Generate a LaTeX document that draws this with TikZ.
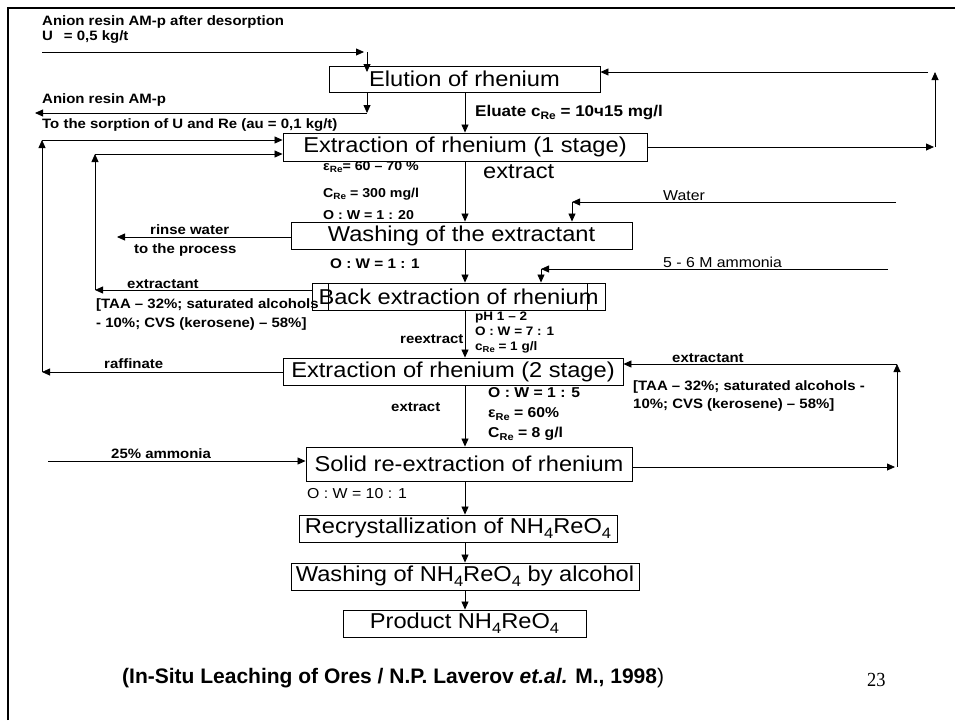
\documentclass[tikz,border=0pt]{standalone}
\usepackage{fontspec}
\setmainfont{Liberation Sans}[FakeStretch=1.1]
\newfontfamily\citefont{Liberation Sans}
\newfontfamily\numfont{Liberation Serif}[FakeStretch=0.92]
\usetikzlibrary{arrows.meta}
\newcommand\sbs[1]{\raisebox{-0.22em}{\scalebox{0.7}{#1}}}
\tikzset{
 box/.style={draw, line width=0.9pt, inner sep=0pt, font=\fontsize{21.5}{24}\selectfont},
 lbl/.style={anchor=base west, inner sep=0pt, font=\fontsize{13.6}{15}\selectfont\bfseries},
 lblm/.style={anchor=base west, inner sep=0pt, font=\fontsize{12.9}{14}\selectfont\bfseries},
 lbls/.style={anchor=base west, inner sep=0pt, font=\fontsize{12.3}{13}\selectfont\bfseries},
 lblr/.style={anchor=base west, inner sep=0pt, font=\fontsize{14.4}{15}\selectfont},
 big/.style={anchor=base west, inner sep=0pt, font=\fontsize{21.5}{24}\selectfont},
 arr/.style={-{Triangle[length=8pt,width=7pt]}, line width=0.8pt},
}
\begin{document}
\begin{tikzpicture}[x=1pt,y=-1pt]
\useasboundingbox (0,0) rectangle (955,720);
\draw[line width=2.6pt] (8,720) -- (8,8) -- (955,8);

% boxes
\node[box, minimum width=271pt, minimum height=26pt] (elution) at (464.5,79) {Elution of rhenium};
\node[box, minimum width=364pt, minimum height=28pt] (ext1) at (465,147) {Extraction of rhenium (1 stage)};
\node[box, minimum width=341pt, minimum height=27pt] (washing) at (461.5,235.5) {Washing of the extractant};
\node[box, minimum width=293pt, minimum height=27pt] (back) at (458.5,296.5) {Back extraction of rhenium};
\node[box, minimum width=259pt, minimum height=27pt] (backin) at (457.5,296.5) {};
\node[box, minimum width=340pt, minimum height=27pt] (ext2) at (453,371.5) {Extraction of rhenium (2 stage)};
\node[box, minimum width=326pt, minimum height=34pt] (solid) at (469,464) {Solid re-extraction of rhenium};
\node[box, minimum width=318pt, minimum height=27pt] (recryst) at (458,528.5) {Recrystallization of NH\sbs{4}ReO\sbs{4}};
\node[box, minimum width=348pt, minimum height=27pt] (wash2) at (465,576.5) {Washing of NH\sbs{4}ReO\sbs{4} by alcohol};
\node[box, minimum width=243pt, minimum height=27pt] (product) at (464.5,623.5) {Product NH\sbs{4}ReO\sbs{4}};

% labels
\node[lbl] (l1) at (42,25) {Anion resin AM-p after desorption};
\node[lbl] (l2) at (42,40) {U\hspace{0.5em} = 0,5 kg/t};
\node[lbl] (l3) at (42,103) {Anion resin AM-p};
\node[lbl] (l4) at (42,128) {To the sorption of U and Re (au = 0,1 kg/t)};
\node[lbl, font=\fontsize{15.5}{17}\selectfont\bfseries] (eluate) at (475,116) {Eluate c\sbs{Re} = 10ч15 mg/l};
\node[lblm] (eps1) at (323,170) {ε\sbs{Re}= 60 -- 70 \%};
\node[lblm] (cre1) at (323,197) {C\sbs{Re} = 300 mg/l};
\node[lblm] (ow1) at (323,219) {O : W = 1 : 20};
\node[big] (extr1) at (483,178) {extract};
\node[lblr] (water) at (663,200) {Water};
\node[lbl] (rinse) at (150,234) {rinse water};
\node[lbl] (process) at (134,253) {to the process};
\node[lbl, font=\fontsize{13.9}{15}\selectfont\bfseries] (ow2) at (330,268) {O : W = 1 : 1};
\node[lblr] (amm56) at (663,267) {5 - 6 M ammonia};
\node[lbl] (extt1) at (127,288) {extractant};
\node[lbl] (taa1a) at (96,308) {[TAA -- 32\%; saturated alcohols};
\node[lbl] (taa1b) at (96,327) {- 10\%; CVS (kerosene) -- 58\%]};
\node[lbls] (ph) at (475,320) {pH 1 -- 2};
\node[lbls] (ow3) at (475,335) {O : W = 7 : 1};
\node[lbls] (cre3) at (475,350) {c\sbs{Re} = 1 g/l};
\node[lbl] (reext) at (400,343) {reextract};
\node[lbl] (raff) at (104,368) {raffinate};
\node[lbl] (extt2) at (672,362) {extractant};
\node[lbl] (taa2a) at (633,390) {[TAA -- 32\%; saturated alcohols -};
\node[lbl] (taa2b) at (633,408) {10\%; CVS (kerosene) -- 58\%]};
\node[lbl, font=\fontsize{14.3}{15}\selectfont\bfseries] (ow4) at (488,397) {O : W = 1 : 5};
\node[lbl, font=\fontsize{14.3}{15}\selectfont\bfseries] (eps2) at (488,417) {ε\sbs{Re} = 60\%};
\node[lbl, font=\fontsize{14.3}{15}\selectfont\bfseries] (cre2) at (488,437) {C\sbs{Re} = 8 g/l};
\node[lbl] (extr2) at (391,411) {extract};
\node[lbl] (amm25) at (111,458) {25\% ammonia};
\node[lblr] (ow5) at (307,498) {O : W = 10 : 1};
\node[anchor=base west, inner sep=0pt, font=\citefont\fontsize{21}{24}\selectfont\bfseries] (cite) at (122,683) {(In-Situ Leaching of Ores / N.P. Laverov \textit{et.al.} M., 1998\textmd{)}};
\node[anchor=base west, inner sep=0pt, font=\numfont\fontsize{20}{22}\selectfont] (pg) at (867,686) {23};

% coordinates
\coordinate (mx) at (465,0);
\coordinate (inS) at (42,52);
\coordinate (inE) at (364,52);
\coordinate (inC) at (367,52);
\coordinate (inT) at (367,72);
\coordinate (outC) at (367,113);
\coordinate (outE) at (35,113);
\coordinate (rA) at (934,147);
\coordinate (rB) at (935,147);
\coordinate (rC) at (935,72);
\coordinate (rD) at (928,72);
\coordinate (oA) at (42,372);
\coordinate (oB) at (42,140);
\coordinate (iA) at (95,290);
\coordinate (iB) at (95,154);
\coordinate (rinseE) at (117,237);
\coordinate (wS) at (896,202);
\coordinate (wC) at (572,202);
\coordinate (aS) at (888,269);
\coordinate (aC) at (541,269);
\coordinate (eS) at (897,467);
\coordinate (eC) at (897,364);
\coordinate (sE) at (895,467);
\coordinate (amS) at (48,461);

% connectors
\draw[arr] (inS) -- (inE);
\draw[arr] (inC) -- (inT);
\draw[arr] (elution.south -| inC) -- (outC);
\draw[arr] (outC) -- (outE);
\draw[arr] (elution.south -| mx) -- (ext1.north -| mx);
\draw[arr] (ext1.south -| mx) -- (washing.north -| mx);
\draw[arr] (washing.south -| mx) -- (back.north -| mx);
\draw[arr] (back.south -| mx) -- (ext2.north -| mx);
\draw[arr] (ext2.south -| mx) -- (solid.north -| mx);
\draw[arr] (solid.south -| mx) -- (recryst.north -| mx);
\draw[arr] (recryst.south -| mx) -- (wash2.north -| mx);
\draw[arr] (wash2.south -| mx) -- (product.north -| mx);
\draw[arr] (ext1.east) -- (rA);
\draw[arr] (rB) -- (rC);
\draw[arr] (rD) -- (elution.east |- rD);
\draw[arr] (ext2.west |- oA) -- (oA);
\draw[arr] (oA) -- (oB);
\draw[arr] (oB) -- (ext1.west |- oB);
\draw[arr] (back.west |- iA) -- (iA);
\draw[arr] (iA) -- (iB);
\draw[arr] (iB) -- (ext1.west |- iB);
\draw[arr] (washing.west |- rinseE) -- (rinseE);
\draw[arr] (wS) -- (wC);
\draw[arr] (wC) -- (washing.north -| wC);
\draw[arr] (aS) -- (aC);
\draw[arr] (aC) -- (back.north -| aC);
\draw[arr] (eS) -- (eC);
\draw[arr] (eC) -- (ext2.east |- eC);
\draw[arr] (solid.east |- sE) -- (sE);
\draw[arr] (amS) -- (solid.west |- amS);
\end{tikzpicture}
\end{document}
